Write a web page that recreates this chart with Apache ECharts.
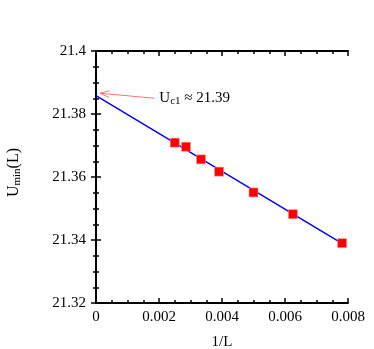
<!DOCTYPE html>
<html><head><meta charset="utf-8">
<script src="https://cdn.jsdelivr.net/npm/echarts@6/dist/echarts.min.js"></script>
<style>html,body{margin:0;padding:0;background:#fff}#c{width:374px;height:349px}</style>
</head><body><div id="c"></div>
<script>
const invL = [0.0025, 0.002857, 0.003333, 0.003906, 0.005, 0.00625, 0.0078125];
const uMin = [21.3709, 21.3696, 21.3656, 21.3617, 21.3551, 21.3482, 21.3390];
const fitLine = [[0, 21.3858], [0.0079, 21.3384]];
const arrowTip = [0.00013, 21.3866];
const arrowTail = [0.00185, 21.3850];
const noteAt = [0.00201, 21.3852];
const xTicks = [0, 0.002, 0.004, 0.006, 0.008];
const yTicks = [21.32, 21.34, 21.36, 21.38, 21.4];

const FONT = '"Liberation Serif", "DejaVu Serif", serif';
const chart = echarts.init(document.getElementById('c'));
const axCommon = {
  axisLine: {lineStyle: {color: '#000', width: 2}},
  axisTick: {inside: true, length: 5, lineStyle: {color: '#000', width: 1.5}},
  minorTick: {show: true, splitNumber: 4, length: 3, lineStyle: {color: '#000', width: 1.5}},
  splitLine: {show: false}
};
chart.setOption({
  animation: false,
  grid: {left: 96, right: 26, top: 51, bottom: 46, containLabel: false, outerBoundsMode: 'none'},
  xAxis: [
    Object.assign({type: 'value', min: xTicks[0], max: xTicks[xTicks.length-1], interval: 0.002,
      name: '1/L', nameLocation: 'middle', nameGap: 32,
      nameTextStyle: {fontFamily: FONT, fontSize: 15, color: '#000'},
      axisLabel: {fontFamily: FONT, fontSize: 15, color: '#000', margin: 7}}, axCommon),
    Object.assign({type: 'value', position: 'top', min: 0, max: 0.008, interval: 0.002,
      axisLabel: {show: false}}, axCommon)
  ],
  yAxis: [
    Object.assign({type: 'value', min: yTicks[0], max: yTicks[yTicks.length-1], interval: 0.02,
      name: '{a|U}{b|min}{a|(L)}', nameLocation: 'middle', nameGap: 73, nameRotate: 90,
      nameTextStyle: {fontFamily: FONT, fontSize: 16, color: '#000', padding: [0, 0, 0, 9],
        rich: {a: {fontFamily: FONT, fontSize: 16, color: '#000'},
               b: {fontFamily: FONT, fontSize: 11, color: '#000', verticalAlign: 'bottom', padding: [7,0,0,0]}}},
      axisLabel: {fontFamily: FONT, fontSize: 15, color: '#000', margin: 10}}, axCommon),
    Object.assign({type: 'value', position: 'right', min: 21.32, max: 21.4, interval: 0.02,
      axisLabel: {show: false}}, axCommon)
  ],
  series: [
    {type: 'line', data: fitLine, symbol: 'none', lineStyle: {color: '#0000ff', width: 1.5}, z: 2},
    {type: 'scatter', data: invL.map((x, i) => [x, uMin[i]]), symbol: 'rect', symbolSize: 9,
      itemStyle: {color: '#ff0000', borderColor: '#ff9090', borderWidth: 0.6, opacity: 1}, z: 3},
    {type: 'custom', data: [[arrowTip[0], arrowTip[1], arrowTail[0], arrowTail[1], noteAt[0], noteAt[1]]], z: 4,
      renderItem: function (params, api) {
        const p = api.coord([api.value(0), api.value(1)]);
        const q = api.coord([api.value(2), api.value(3)]);
        const t = api.coord([api.value(4), api.value(5)]);
        const ang = Math.atan2(q[1]-p[1], q[0]-p[0]);
        const L = 10, a = 0.35;
        const h1 = [p[0] + L*Math.cos(ang+a), p[1] + L*Math.sin(ang+a)];
        const h2 = [p[0] + L*Math.cos(ang-a), p[1] + L*Math.sin(ang-a)];
        const ls = {stroke: '#ff7070', lineWidth: 1, fill: null};
        return {type: 'group', children: [
          {type: 'line', shape: {x1: p[0], y1: p[1], x2: q[0], y2: q[1]}, style: ls},
          {type: 'polyline', shape: {points: [h1, p, h2]}, style: ls},
          {type: 'text', x: t[0], y: t[1], style: {
            text: '{a|U}{b|c1}{a| ≈ 21.39}', align: 'left', verticalAlign: 'middle',
            rich: {a: {fontFamily: FONT, fontSize: 15, fill: '#000'},
                   b: {fontFamily: FONT, fontSize: 11, fill: '#000', verticalAlign: 'bottom', padding: [7,0,0,0]}}}}
        ]};
      }}
  ]
});
</script></body></html>
